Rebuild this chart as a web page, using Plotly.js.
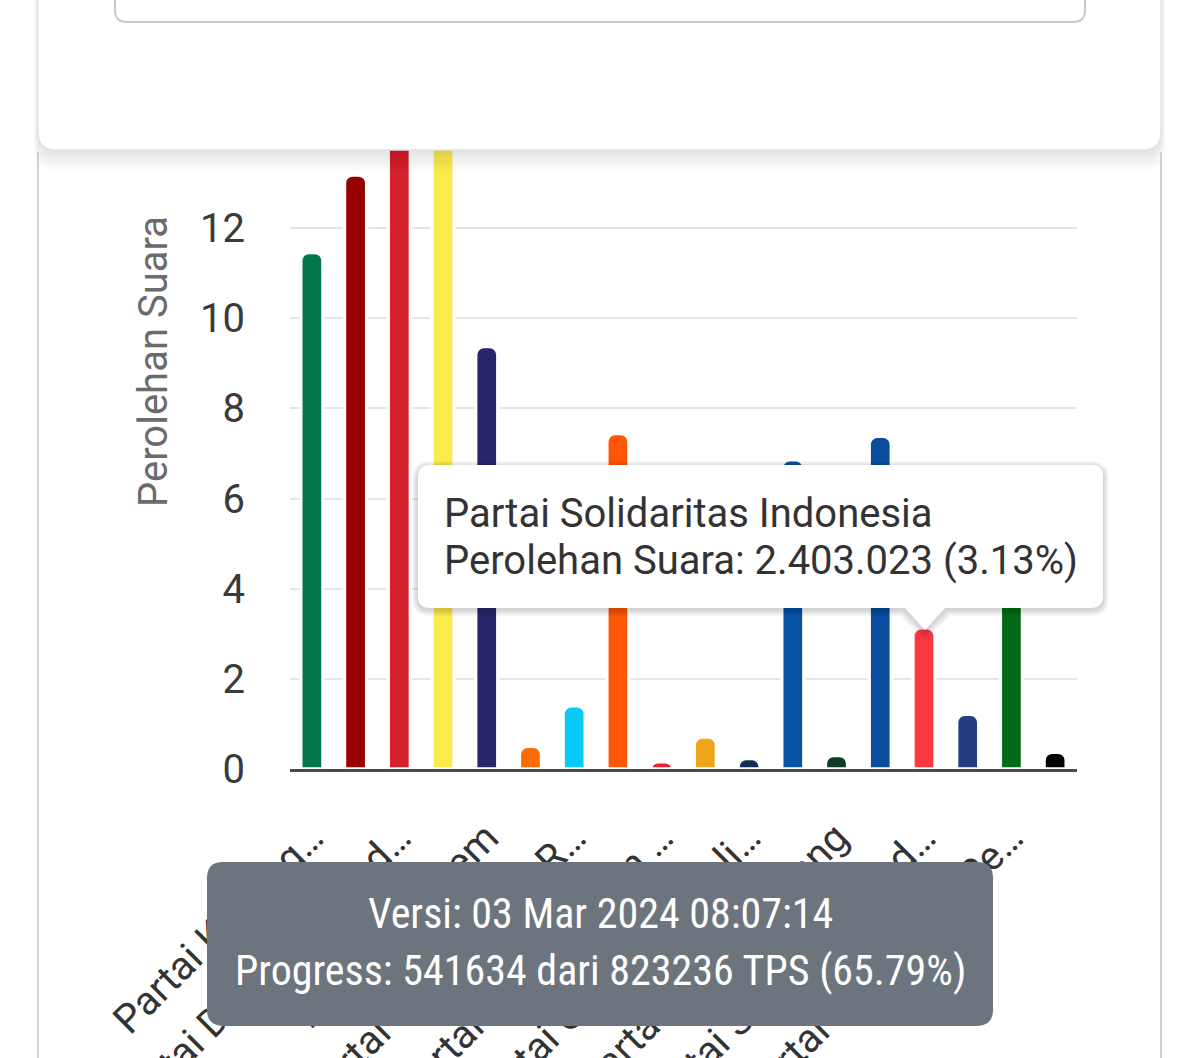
<!DOCTYPE html>
<html>
<head>
<meta charset="utf-8">
<script src="https://cdn.plot.ly/plotly-3.0.1.min.js"></script>
<style>
  html, body { margin: 0; padding: 0; background: #ffffff; }
  #chart { width: 1200px; height: 1058px; }
</style>
</head>
<body>
<div id="chart"></div>
<script>
// ---------- data ----------
const parties = [
  "Partai Kebangkitan Bangsa",
  "Partai Gerakan Indonesia Raya",
  "Partai Demokrasi Indonesia Perjuangan",
  "Partai Golongan Karya",
  "Partai NasDem",
  "Partai Buruh",
  "Partai Gelombang Rakyat Indonesia",
  "Partai Keadilan Sejahtera",
  "Partai Kebangkitan Nusantara",
  "Partai Hati Nurani Rakyat",
  "Partai Garda Republik Indonesia",
  "Partai Amanat Nasional",
  "Partai Bulan Bintang",
  "Partai Demokrat",
  "Partai Solidaritas Indonesia",
  "Partai Perindo",
  "Partai Persatuan Pembangunan",
  "Partai Ummat"
];
// vote share (%)
const votePct = [11.46, 13.18, 16.60, 15.10, 9.37, 0.50, 1.40, 7.44, 0.16,
                 0.71, 0.23, 6.86, 0.30, 7.38, 3.13, 1.21, 3.97, 0.37];
const barColors = ["#02774a", "#990000", "#d6202b", "#fbea4b", "#27266b", "#fb6c07",
                   "#08c9f7", "#fc5606", "#e8212a", "#eea51c", "#0f2f55", "#0754a6",
                   "#0f3d28", "#0a4c9d", "#f93844", "#243c80", "#006a17", "#050505"];
// truncated axis labels as displayed
const tickLabels = [
  "Partai Kebang\u2026", "Partai Gerakan Indo\u2026", "Partai Demokrasi Ind\u2026",
  "Partai Golongan Kar\u2026", "Partai NasDem", "Partai Buruh",
  "Partai Gelombang R\u2026", "Partai Keadilan Sej\u2026", "Partai Kebangkitan \u2026",
  "Partai Hati Nurani \u2026", "Partai Garda Republi\u2026", "Partai Amanat Nasio\u2026",
  "Partai Bulan Bintang", "Partai Demokrat", "Partai Solidaritas Ind\u2026",
  "Partai Perindo", "Partai Persatuan Pe\u2026", "Partai Ummat"
];
const yTickVals = [0, 2, 4, 6, 8, 10, 12];
const yTitle = "Perolehan Suara";
const tipIndex = 14;
const tipVotes = "2.403.023";
const versionText = "Versi: 03 Mar 2024 08:07:14";
const progressText = "Progress: 541634 dari 823236 TPS (65.79%)";

// ---------- page geometry helpers (decorations only) ----------
const L = 290, W = 787, B = 769, H = 769;
const px = v => (v - L) / W;
const py = v => (B - v) / H;
const pt = (x, y) => px(x).toFixed(5) + "," + py(y).toFixed(5);
function rrect(x0, y0, x1, y1, r) {
  return "M" + pt(x0 + r, y0) + " L" + pt(x1 - r, y0) + " Q" + pt(x1, y0) + " " + pt(x1, y0 + r) +
         " L" + pt(x1, y1 - r) + " Q" + pt(x1, y1) + " " + pt(x1 - r, y1) +
         " L" + pt(x0 + r, y1) + " Q" + pt(x0, y1) + " " + pt(x0, y1 - r) +
         " L" + pt(x0, y0 + r) + " Q" + pt(x0, y0) + " " + pt(x0 + r, y0) + " Z";
}
function tipPath(d, dy) {
  const x0 = 418 - d, y0 = 465 - d + dy, x1 = 1103 + d, y1 = 608 + d + dy, r = 12 + d;
  const ax = 925, tipY = 630 + d * 1.4 + dy, hw = 20 + d;
  return "M" + pt(x0 + r, y0) + " L" + pt(x1 - r, y0) + " Q" + pt(x1, y0) + " " + pt(x1, y0 + r) +
         " L" + pt(x1, y1 - r) + " Q" + pt(x1, y1) + " " + pt(x1 - r, y1) +
         " L" + pt(ax + hw, y1) + " L" + pt(ax, tipY) + " L" + pt(ax - hw, y1) +
         " L" + pt(x0 + r, y1) + " Q" + pt(x0, y1) + " " + pt(x0, y1 - r) +
         " L" + pt(x0, y0 + r) + " Q" + pt(x0, y0) + " " + pt(x0 + r, y0) + " Z";
}

const shapes = [];
// card shadow
for (let k = 1; k <= 9; k++) {
  shapes.push({type: "path", xref: "paper", yref: "paper", layer: "above",
    path: rrect(38 - k * 0.5, -40, 1161 + k * 0.5, 150 + k * 2.4, 18 + k),
    fillcolor: "rgba(0,0,0,0.011)", line: {width: 0}});
}
// top card
shapes.push({type: "path", xref: "paper", yref: "paper", layer: "above",
  path: rrect(38, -40, 1161, 150, 18), fillcolor: "#ffffff", line: {color: "#e3e3e3", width: 1.5}});
// input box inside card
shapes.push({type: "path", xref: "paper", yref: "paper", layer: "above",
  path: rrect(115, -40, 1085, 22, 12), fillcolor: "#ffffff", line: {color: "#c9c9c9", width: 2}});
// chart card side borders
[38, 1161].forEach(x => shapes.push({type: "line", xref: "paper", yref: "paper", layer: "above",
  x0: px(x), x1: px(x), y0: py(152), y1: py(1070), line: {color: "#d2d2d2", width: 2}}));
// tooltip shadow + body
for (let k = 6; k >= 1; k--) {
  shapes.push({type: "path", xref: "paper", yref: "paper", layer: "above",
    path: tipPath(k, 2), fillcolor: "rgba(0,0,0,0.028)", line: {width: 0}});
}
shapes.push({type: "path", xref: "paper", yref: "paper", layer: "above",
  path: tipPath(0, 0), fillcolor: "#ffffff", line: {width: 0}});
// toast
shapes.push({type: "path", xref: "paper", yref: "paper", layer: "above",
  path: rrect(207, 862, 993, 1026, 16), fillcolor: "#6c757d", line: {width: 0}});

const annotations = [
  {xref: "paper", yref: "paper", x: px(153), y: py(362), xanchor: "center", yanchor: "middle",
   text: yTitle, textangle: -90, showarrow: false, borderpad: 0,
   font: {family: "Roboto, sans-serif", size: 40, color: "#6b6b6b"}},
  {xref: "paper", yref: "paper", x: px(443), y: py(513), xanchor: "left", yanchor: "middle",
   text: parties[tipIndex], showarrow: false, borderpad: 0,
   font: {family: "Roboto, sans-serif", size: 40, color: "#333333"}},
  {xref: "paper", yref: "paper", x: px(443), y: py(560), xanchor: "left", yanchor: "middle",
   text: yTitle + ": " + tipVotes + " (" + votePct[tipIndex].toFixed(2) + "%)", showarrow: false, borderpad: 0,
   font: {family: "Roboto, sans-serif", size: 40, color: "#333333"}},
  {xref: "paper", yref: "paper", x: px(600), y: py(913), xanchor: "center", yanchor: "middle",
   text: versionText, showarrow: false, borderpad: 0,
   font: {family: "'Liberation Sans Narrow', 'Roboto Condensed', 'Arial Narrow', Roboto, sans-serif", size: 42, color: "#ffffff"}},
  {xref: "paper", yref: "paper", x: px(600), y: py(970), xanchor: "center", yanchor: "middle",
   text: progressText, showarrow: false, borderpad: 0,
   font: {family: "'Liberation Sans Narrow', 'Roboto Condensed', 'Arial Narrow', Roboto, sans-serif", size: 42, color: "#ffffff"}}
];

const trace = {
  type: "bar",
  x: parties,
  y: votePct,
  width: 0.503,
  marker: {color: barColors, line: {color: "#ffffff", width: 3.3}, cornerradius: 8},
  hoverinfo: "none"
};

const layout = {
  width: 1200, height: 1058, autosize: false,
  margin: {l: L, r: 1200 - L - W, t: 0, b: 1058 - H, pad: 0},
  paper_bgcolor: "#ffffff", plot_bgcolor: "#ffffff",
  showlegend: false,
  font: {family: "Roboto, sans-serif"},
  xaxis: {
    type: "category",
    tickmode: "array",
    tickvals: parties.filter((p, i) => i % 2 === 0),
    ticktext: tickLabels.filter((t, i) => i % 2 === 0),
    tickangle: -45,
    tickfont: {family: "Roboto, sans-serif", size: 40, color: "#333333"},
    ticks: "", ticklabelstandoff: 26,
    showgrid: false, zeroline: false,
    showline: true, linecolor: "#4a4a4a", linewidth: 3,
    automargin: false, fixedrange: true
  },
  yaxis: {
    range: [0, H / 45.07],
    tickmode: "array", tickvals: yTickVals,
    tickfont: {family: "Roboto, sans-serif", size: 40, color: "#3a3a3a"},
    ticks: "", ticklabelstandoff: 44,
    showgrid: true, gridcolor: "#e5e5e5", gridwidth: 2,
    zeroline: false, showline: false,
    automargin: false, fixedrange: true
  },
  shapes: shapes,
  annotations: annotations
};

Plotly.newPlot("chart", [trace], layout, {displayModeBar: false, staticPlot: true});
</script>
</body>
</html>
